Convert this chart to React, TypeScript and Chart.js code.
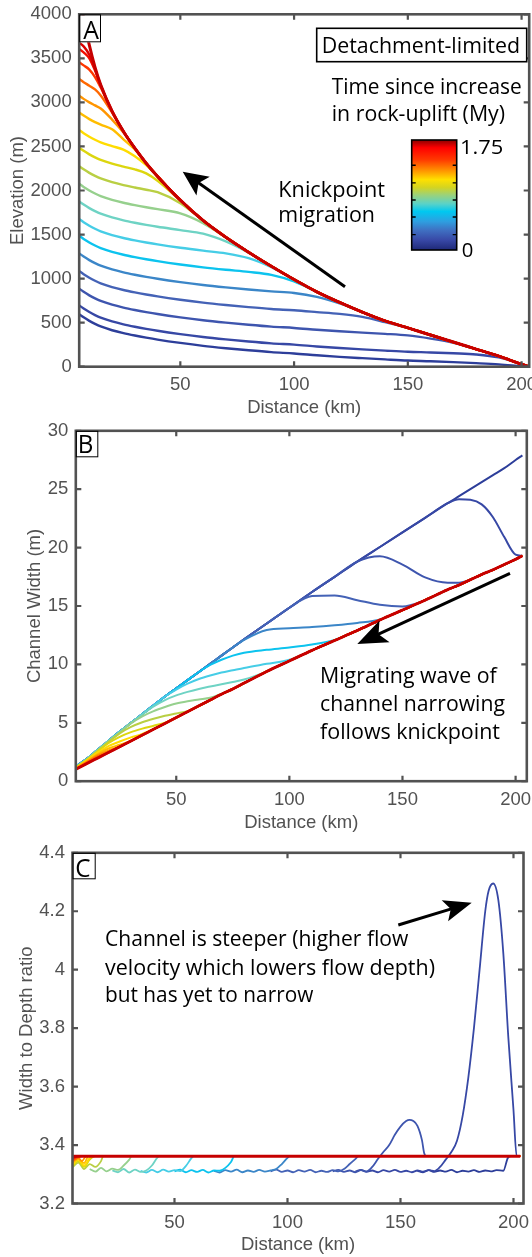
import React, { useEffect, useRef } from 'react';
import { Chart, registerables } from 'chart.js';

Chart.register(...registerables);

// ---------------- shared ----------------
const X_TICKS = [50, 100, 150, 200];
// colours from t = 0 (blue) to t = 1.75 My (dark red)
const TIME_COLORS = ['#2d3e9a', '#3748a5', '#3e55ae', '#4462b6', '#3b86c8', '#0cc3ee', '#46cde6', '#6ed3c4', '#96d08d', '#b9cf43', '#dcd60f', '#ffdc00', '#ffbd00', '#ff9500', '#ff6800', '#ff3600', '#f20e00', '#db0000', '#c60000'];

// ---------------- Panel A: elevation (m) ----------------
const DIST_A = [5, 7.5, 10, 12.5, 15, 20, 25, 30, 35, 40, 50, 60, 70, 80, 90, 100, 110, 120, 130, 140, 150, 160, 170, 180, 190, 200, 203.4];
const ELEV_0 = [606, 560, 520, 486, 457, 414, 381, 354, 330, 308, 270, 237, 210, 186, 165, 150, 130, 112, 97, 83, 70, 62, 52, 40, 26, 6, 0];
const ELEV_1 = [706, 660, 620, 586, 557, 514, 481, 454, 430, 408, 370, 337, 310, 286, 265, 250, 230, 212, 197, 183, 170, 162, 152, 139, 105, 28, 0];
const ELEV_2 = [896, 850, 810, 776, 747, 704, 671, 644, 620, 598, 560, 527, 500, 476, 455, 440, 420, 402, 387, 373, 355, 319, 272, 200, 120, 28, 0];
const ELEV_3 = [1096, 1050, 1010, 976, 947, 904, 871, 844, 820, 798, 760, 727, 700, 676, 655, 640, 620, 599, 565, 506, 440, 360, 280, 200, 120, 28, 0];
const ELEV_4 = [1296, 1250, 1210, 1176, 1147, 1104, 1071, 1044, 1020, 998, 960, 927, 900, 876, 855, 837, 793, 718, 620, 520, 440, 360, 280, 200, 120, 28, 0];
const ELEV_5 = [1496, 1450, 1410, 1376, 1347, 1304, 1271, 1244, 1220, 1198, 1160, 1127, 1100, 1076, 1043, 968, 850, 730, 620, 520, 440, 360, 280, 200, 120, 28, 0];
const ELEV_6 = [1686, 1640, 1600, 1566, 1537, 1494, 1461, 1434, 1410, 1388, 1350, 1317, 1287, 1232, 1130, 990, 850, 730, 620, 520, 440, 360, 280, 200, 120, 28, 0];
const ELEV_7 = [1886, 1840, 1800, 1766, 1737, 1694, 1661, 1634, 1610, 1588, 1550, 1510, 1422, 1295, 1140, 990, 850, 730, 620, 520, 440, 360, 280, 200, 120, 28, 0];
const ELEV_8 = [2086, 2040, 2000, 1966, 1937, 1894, 1861, 1834, 1810, 1788, 1740, 1629, 1467, 1300, 1140, 990, 850, 730, 620, 520, 440, 360, 280, 200, 120, 28, 0];
const ELEV_9 = [2286, 2240, 2200, 2166, 2137, 2094, 2061, 2034, 2009, 1981, 1856, 1658, 1470, 1300, 1140, 990, 850, 730, 620, 520, 440, 360, 280, 200, 120, 28, 0];
const ELEV_10 = [2496, 2450, 2410, 2376, 2347, 2304, 2271, 2240, 2194, 2110, 1887, 1660, 1470, 1300, 1140, 990, 850, 730, 620, 520, 440, 360, 280, 200, 120, 28, 0];
const ELEV_11 = [2696, 2650, 2610, 2576, 2547, 2504, 2463, 2388, 2287, 2158, 1890, 1660, 1470, 1300, 1140, 990, 850, 730, 620, 520, 440, 360, 280, 200, 120, 28, 0];
const ELEV_12 = [2896, 2850, 2810, 2776, 2747, 2694, 2581, 2465, 2307, 2160, 1890, 1660, 1470, 1300, 1140, 990, 850, 730, 620, 520, 440, 360, 280, 200, 120, 28, 0];
const ELEV_13 = [3086, 3040, 3000, 2966, 2931, 2805, 2657, 2478, 2310, 2160, 1890, 1660, 1470, 1300, 1140, 990, 850, 730, 620, 520, 440, 360, 280, 200, 120, 28, 0];
const ELEV_14 = [3276, 3230, 3190, 3147, 3079, 2884, 2668, 2480, 2310, 2160, 1890, 1660, 1470, 1300, 1140, 990, 850, 730, 620, 520, 440, 360, 280, 200, 120, 28, 0];
const ELEV_15 = [3466, 3420, 3373, 3288, 3169, 2899, 2670, 2480, 2310, 2160, 1890, 1660, 1470, 1300, 1140, 990, 850, 730, 620, 520, 440, 360, 280, 200, 120, 28, 0];
const ELEV_16 = [3616, 3568, 3500, 3362, 3193, 2900, 2670, 2480, 2310, 2160, 1890, 1660, 1470, 1300, 1140, 990, 850, 730, 620, 520, 440, 360, 280, 200, 120, 28, 0];
const ELEV_17 = [3686, 3636, 3540, 3381, 3196, 2900, 2670, 2480, 2310, 2160, 1890, 1660, 1470, 1300, 1140, 990, 850, 730, 620, 520, 440, 360, 280, 200, 120, 28, 0];
const ELEV_FINAL = [4300, 3950, 3650, 3400, 3200, 2900, 2670, 2480, 2310, 2160, 1890, 1660, 1470, 1300, 1140, 990, 850, 730, 620, 520, 440, 360, 280, 200, 120, 28, 0];
const ELEV_TICKS = [0, 500, 1000, 1500, 2000, 2500, 3000, 3500, 4000];

// ---------------- Panel B: channel width (m) ----------------
const DIST_B = [5, 10, 15, 20, 25, 30, 35, 40, 45, 50, 55, 60, 65, 70, 75, 80, 90, 100, 110, 120, 130, 140, 150, 160, 170, 175, 180, 185, 190, 195, 200, 203];
const WIDTH_0 = [1.2, 1.85, 2.65, 3.45, 4.25, 5.0, 5.75, 6.5, 7.25, 7.95, 8.65, 9.35, 10.05, 10.75, 11.45, 12.15, 13.5, 14.85, 16.2, 17.5, 18.8, 20.05, 21.3, 22.55, 23.8, 24.4, 25.0, 25.6, 26.2, 26.8, 27.5, 27.9];
const WIDTH_1 = [1.2, 1.85, 2.65, 3.45, 4.25, 5.0, 5.75, 6.5, 7.25, 7.95, 8.65, 9.35, 10.05, 10.75, 11.45, 12.15, 13.5, 14.85, 16.2, 17.5, 18.8, 20.05, 21.3, 22.55, 23.8, 24.15, 24.1, 23.7, 22.6, 20.9, 19.4, 19.3];
const WIDTH_2 = [1.2, 1.85, 2.65, 3.45, 4.25, 5.0, 5.75, 6.5, 7.25, 7.95, 8.65, 9.35, 10.05, 10.75, 11.45, 12.15, 13.5, 14.85, 16.2, 17.5, 18.8, 19.25, 18.55, 17.45, 17.0, 17.0, 17.25, 17.7, 18.1, 18.55, 19.0, 19.3];
const WIDTH_3 = [1.2, 1.85, 2.65, 3.45, 4.25, 5.0, 5.75, 6.5, 7.25, 7.95, 8.65, 9.35, 10.05, 10.75, 11.45, 12.15, 13.5, 14.85, 15.85, 15.9, 15.5, 15.1, 14.95, 15.5, 16.4, 16.8, 17.25, 17.7, 18.1, 18.55, 19.0, 19.3];
const WIDTH_4 = [1.2, 1.85, 2.65, 3.45, 4.25, 5.0, 5.75, 6.5, 7.25, 7.95, 8.65, 9.35, 10.05, 10.75, 11.45, 12.1, 12.95, 13.1, 13.2, 13.35, 13.55, 13.85, 14.65, 15.5, 16.4, 16.8, 17.25, 17.7, 18.1, 18.55, 19.0, 19.3];
const WIDTH_5 = [1.18, 1.85, 2.65, 3.45, 4.25, 5.0, 5.75, 6.5, 7.25, 7.95, 8.65, 9.35, 9.95, 10.4, 10.75, 11.0, 11.25, 11.45, 11.7, 12.1, 12.9, 13.8, 14.65, 15.5, 16.4, 16.8, 17.25, 17.7, 18.1, 18.55, 19.0, 19.3];
const WIDTH_6 = [1.16, 1.84, 2.65, 3.45, 4.25, 5.0, 5.75, 6.5, 7.25, 7.85, 8.35, 8.75, 9.05, 9.3, 9.5, 9.7, 10.05, 10.4, 11.2, 12.05, 12.9, 13.8, 14.65, 15.5, 16.4, 16.8, 17.25, 17.7, 18.1, 18.55, 19.0, 19.3];
const WIDTH_7 = [1.14, 1.82, 2.63, 3.43, 4.22, 4.98, 5.72, 6.4, 6.95, 7.35, 7.65, 7.9, 8.1, 8.3, 8.5, 8.7, 9.4, 10.3, 11.2, 12.05, 12.9, 13.8, 14.65, 15.5, 16.4, 16.8, 17.25, 17.7, 18.1, 18.55, 19.0, 19.3];
const WIDTH_8 = [1.12, 1.8, 2.6, 3.4, 4.18, 4.95, 5.55, 6.0, 6.35, 6.65, 6.85, 7.0, 7.15, 7.5, 7.9, 8.4, 9.4, 10.3, 11.2, 12.05, 12.9, 13.8, 14.65, 15.5, 16.4, 16.8, 17.25, 17.7, 18.1, 18.55, 19.0, 19.3];
const WIDTH_9 = [1.1, 1.78, 2.55, 3.35, 4.1, 4.65, 5.05, 5.35, 5.6, 5.8, 6.0, 6.45, 6.95, 7.45, 7.9, 8.4, 9.4, 10.3, 11.2, 12.05, 12.9, 13.8, 14.65, 15.5, 16.4, 16.8, 17.25, 17.7, 18.1, 18.55, 19.0, 19.3];
const WIDTH_10 = [1.08, 1.75, 2.5, 3.25, 3.8, 4.2, 4.5, 4.75, 5.0, 5.45, 5.95, 6.45, 6.95, 7.45, 7.9, 8.4, 9.4, 10.3, 11.2, 12.05, 12.9, 13.8, 14.65, 15.5, 16.4, 16.8, 17.25, 17.7, 18.1, 18.55, 19.0, 19.3];
const WIDTH_11 = [1.06, 1.7, 2.4, 3.0, 3.4, 3.75, 4.05, 4.47, 4.95, 5.45, 5.95, 6.45, 6.95, 7.45, 7.9, 8.4, 9.4, 10.3, 11.2, 12.05, 12.9, 13.8, 14.65, 15.5, 16.4, 16.8, 17.25, 17.7, 18.1, 18.55, 19.0, 19.3];
const WIDTH_12 = [1.04, 1.65, 2.3, 2.8, 3.12, 3.47, 3.95, 4.45, 4.95, 5.45, 5.95, 6.45, 6.95, 7.45, 7.9, 8.4, 9.4, 10.3, 11.2, 12.05, 12.9, 13.8, 14.65, 15.5, 16.4, 16.8, 17.25, 17.7, 18.1, 18.55, 19.0, 19.3];
const WIDTH_13 = [1.02, 1.6, 2.2, 2.62, 2.97, 3.45, 3.95, 4.45, 4.95, 5.45, 5.95, 6.45, 6.95, 7.45, 7.9, 8.4, 9.4, 10.3, 11.2, 12.05, 12.9, 13.8, 14.65, 15.5, 16.4, 16.8, 17.25, 17.7, 18.1, 18.55, 19.0, 19.3];
const WIDTH_14 = [1.0, 1.55, 2.1, 2.5, 2.95, 3.45, 3.95, 4.45, 4.95, 5.45, 5.95, 6.45, 6.95, 7.45, 7.9, 8.4, 9.4, 10.3, 11.2, 12.05, 12.9, 13.8, 14.65, 15.5, 16.4, 16.8, 17.25, 17.7, 18.1, 18.55, 19.0, 19.3];
const WIDTH_15 = [0.98, 1.52, 2.02, 2.45, 2.95, 3.45, 3.95, 4.45, 4.95, 5.45, 5.95, 6.45, 6.95, 7.45, 7.9, 8.4, 9.4, 10.3, 11.2, 12.05, 12.9, 13.8, 14.65, 15.5, 16.4, 16.8, 17.25, 17.7, 18.1, 18.55, 19.0, 19.3];
const WIDTH_16 = [0.97, 1.49, 1.98, 2.45, 2.95, 3.45, 3.95, 4.45, 4.95, 5.45, 5.95, 6.45, 6.95, 7.45, 7.9, 8.4, 9.4, 10.3, 11.2, 12.05, 12.9, 13.8, 14.65, 15.5, 16.4, 16.8, 17.25, 17.7, 18.1, 18.55, 19.0, 19.3];
const WIDTH_17 = [0.96, 1.47, 1.96, 2.45, 2.95, 3.45, 3.95, 4.45, 4.95, 5.45, 5.95, 6.45, 6.95, 7.45, 7.9, 8.4, 9.4, 10.3, 11.2, 12.05, 12.9, 13.8, 14.65, 15.5, 16.4, 16.8, 17.25, 17.7, 18.1, 18.55, 19.0, 19.3];
const WIDTH_FINAL = [0.95, 1.45, 1.95, 2.45, 2.95, 3.45, 3.95, 4.45, 4.95, 5.45, 5.95, 6.45, 6.95, 7.45, 7.9, 8.4, 9.4, 10.3, 11.2, 12.05, 12.9, 13.8, 14.65, 15.5, 16.4, 16.8, 17.25, 17.7, 18.1, 18.55, 19.0, 19.3];
const WIDTH_TICKS = [0, 5, 10, 15, 20, 25, 30];

// ---------------- Panel C: width to depth ratio ([distance km, ratio]) ----------------
const WD_0 = [[157.5, 3.312], [160, 3.307], [162.5, 3.314], [165, 3.308], [167.5, 3.313], [170, 3.309], [172.5, 3.315], [175, 3.307], [177.5, 3.312], [180, 3.309], [182.5, 3.314], [185, 3.308], [187.5, 3.313], [190, 3.31], [192.5, 3.314], [195.5, 3.312], [197.5, 3.356], [199, 3.362], [203, 3.362]];
const WD_1 = [[130, 3.309], [132.5, 3.315], [135, 3.308], [137.5, 3.313], [140, 3.307], [142.5, 3.314], [145, 3.309], [147.5, 3.315], [150, 3.308], [152.5, 3.312], [155, 3.307], [157.5, 3.313], [160, 3.309], [162.5, 3.314], [165, 3.311], [167.5, 3.325], [170, 3.35], [172.5, 3.376], [175, 3.415], [177.5, 3.5], [180, 3.63], [182.5, 3.8], [185, 4.0], [187.5, 4.2], [189, 4.27], [191, 4.295], [193.3, 4.238], [195.5, 4.056], [197.7, 3.77], [200, 3.52], [201.4, 3.362], [203, 3.362]];
const WD_2 = [[120, 3.31], [122.5, 3.315], [125, 3.308], [127.5, 3.313], [130, 3.307], [132.5, 3.314], [135, 3.31], [137.5, 3.325], [140, 3.352], [142.5, 3.377], [145, 3.4], [147.5, 3.435], [150, 3.463], [152.5, 3.482], [154, 3.486], [155.5, 3.483], [157.5, 3.466], [159.5, 3.417], [160.5, 3.372], [161.5, 3.362], [203, 3.362]];
const WD_3 = [[92.5, 3.31], [95, 3.316], [97.5, 3.308], [100, 3.313], [102.5, 3.307], [105, 3.314], [107.5, 3.309], [110, 3.315], [112.5, 3.307], [115, 3.312], [117.5, 3.308], [120, 3.314], [122.5, 3.31], [125, 3.318], [127.5, 3.335], [130, 3.352], [131.5, 3.362], [203, 3.362]];
const WD_4 = [[67.5, 3.312], [70, 3.306], [72.5, 3.314], [75, 3.309], [77.5, 3.316], [80, 3.307], [82.5, 3.313], [85, 3.308], [87.5, 3.315], [90, 3.309], [92.5, 3.313], [95, 3.318], [97.5, 3.335], [100, 3.356], [101, 3.362], [203, 3.362]];
const WD_5 = [[50, 3.31], [52.5, 3.316], [55, 3.307], [57.5, 3.314], [60, 3.308], [62.5, 3.315], [65, 3.306], [67.5, 3.313], [70, 3.312], [72.5, 3.322], [75, 3.342], [76.5, 3.362], [203, 3.362]];
const WD_6 = [[35, 3.312], [37.5, 3.306], [40, 3.315], [42.5, 3.307], [45, 3.316], [47.5, 3.309], [50, 3.314], [52.5, 3.311], [55, 3.328], [57.5, 3.355], [58.5, 3.362], [203, 3.362]];
const WD_7 = [[22.5, 3.313], [25, 3.307], [27.5, 3.318], [30, 3.306], [32.5, 3.316], [35, 3.308], [37.5, 3.313], [40, 3.33], [42.5, 3.358], [43.5, 3.362], [203, 3.362]];
const WD_8 = [[12.5, 3.318], [15, 3.309], [17.5, 3.322], [20, 3.31], [22.5, 3.319], [25, 3.315], [27.5, 3.33], [30, 3.35], [31, 3.362], [203, 3.362]];
const WD_9 = [[5, 3.325], [7.5, 3.34], [10, 3.318], [12.5, 3.335], [15, 3.325], [17.5, 3.345], [18.5, 3.362], [203, 3.362]];
const WD_10 = [[5, 3.33], [7.5, 3.345], [10, 3.325], [12.5, 3.35], [15, 3.362], [203, 3.362]];
const WD_11 = [[5, 3.335], [7.5, 3.35], [10, 3.33], [12.5, 3.356], [14, 3.362], [203, 3.362]];
const WD_12 = [[5, 3.34], [7.5, 3.352], [10, 3.338], [12, 3.362], [203, 3.362]];
const WD_13 = [[5, 3.343], [7.5, 3.356], [9, 3.345], [11, 3.362], [203, 3.362]];
const WD_14 = [[5, 3.347], [7.5, 3.358], [9.5, 3.362], [203, 3.362]];
const WD_15 = [[5, 3.35], [7, 3.36], [8.5, 3.362], [203, 3.362]];
const WD_16 = [[5, 3.355], [7.5, 3.362], [203, 3.362]];
const WD_17 = [[5, 3.358], [7, 3.362], [203, 3.362]];
const WD_FINAL = [[5, 3.362], [203, 3.362]];
const WD_TICKS = [3.2, 3.4, 3.6, 3.8, 4, 4.2, 4.4];

// colour bar stops (top = 1.75 My, bottom = 0)
const CBAR_STOPS: [number, string][] = [[0, '#8c0000'], [0.07, '#ff0000'], [0.18, '#ff3a00'], [0.27, '#ff8c00'], [0.36, '#ffe000'], [0.43, '#d4d420'], [0.5, '#9bd27a'], [0.58, '#5ad2c8'], [0.65, '#00c8f0'], [0.74, '#2e9fe0'], [0.82, '#3f70c2'], [0.91, '#3848a6'], [1, '#1e2877']];
const CBAR_TICK_FRACTIONS = [0.14, 0.3, 0.455, 0.61, 0.77];

// ---------------- drawing helpers ----------------
const AXIS_FONT = "'Liberation Sans', Arial, Helvetica, sans-serif";
const NOTE_FONT = "'Open Sans', 'Noto Sans', sans-serif";
const AXIS_COLOR = '#525252';
const W = 532;

function fitText(ctx: any, text: string, x: number, y: number, size: number, width: number) {
  ctx.save();
  ctx.font = `${size}px ${NOTE_FONT}`;
  ctx.fillStyle = '#000';
  ctx.textAlign = 'left';
  ctx.textBaseline = 'alphabetic';
  const w = ctx.measureText(text).width || 1;
  ctx.translate(x, y);
  ctx.scale(width / w, 1);
  ctx.fillText(text, 0, 0);
  ctx.restore();
}

function arrow(ctx: any, x1: number, y1: number, x2: number, y2: number, L: number, Wd: number, lw: number) {
  const dx = x2 - x1, dy = y2 - y1, len = Math.hypot(dx, dy);
  const ux = dx / len, uy = dy / len, nx = -uy, ny = ux;
  ctx.save();
  ctx.strokeStyle = '#000';
  ctx.fillStyle = '#000';
  ctx.lineWidth = lw;
  ctx.beginPath();
  ctx.moveTo(x1, y1);
  ctx.lineTo(x2 - ux * L * 0.7, y2 - uy * L * 0.7);
  ctx.stroke();
  ctx.beginPath();
  ctx.moveTo(x2, y2);
  ctx.lineTo(x2 - ux * L + nx * Wd, y2 - uy * L + ny * Wd);
  ctx.lineTo(x2 - ux * L * 0.78, y2 - uy * L * 0.78);
  ctx.lineTo(x2 - ux * L - nx * Wd, y2 - uy * L - ny * Wd);
  ctx.closePath();
  ctx.fill();
  ctx.restore();
}

function labelBox(ctx: any, x0: number, y0: number, x1: number, y1: number, letter: string, lx: number, ly: number, lw: number) {
  ctx.save();
  ctx.fillStyle = '#fff';
  ctx.fillRect(x0 + 1.3, y0 + 1.3, x1 - x0 - 1.3, y1 - y0 - 1.3);
  ctx.strokeStyle = '#000';
  ctx.lineWidth = 1;
  ctx.strokeRect(x0 + 0.5, y0 + 0.5, x1 - x0 - 1, y1 - y0 - 1);
  ctx.restore();
  fitText(ctx, letter, lx, ly, 26, lw);
}

function drawExtrasA(ctx: any) {
  arrow(ctx, 345, 286.7, 182.7, 171.7, 25, 11.5, 3);
  labelBox(ctx, 79.2, 14.3, 101, 42.3, 'A', 83.3, 39.3, 15.7);
  ctx.save();
  ctx.fillStyle = '#fff';
  ctx.fillRect(316.7, 28.3, 210, 33.4);
  ctx.strokeStyle = '#000';
  ctx.lineWidth = 1.6;
  ctx.strokeRect(316.7, 28.3, 210, 33.4);
  ctx.restore();
  fitText(ctx, 'Detachment-limited', 321.7, 53.3, 22.5, 198.3);
  fitText(ctx, 'Time since increase', 331.7, 93.7, 22.5, 190);
  fitText(ctx, 'in rock-uplift (My)', 331.7, 121.3, 22.5, 173.3);
  fitText(ctx, 'Knickpoint', 278.3, 197.3, 22.5, 106.7);
  fitText(ctx, 'migration', 278.3, 222.3, 22.5, 96.7);
  // colour bar
  const x0 = 411.7, y0 = 140, w = 45, h = 110;
  ctx.save();
  const g = ctx.createLinearGradient(0, y0, 0, y0 + h);
  CBAR_STOPS.forEach(([f, c]) => g.addColorStop(f, c));
  ctx.fillStyle = g;
  ctx.fillRect(x0, y0, w, h);
  ctx.strokeStyle = '#000';
  ctx.lineWidth = 1.6;
  ctx.strokeRect(x0, y0, w, h);
  ctx.lineWidth = 1.4;
  ctx.beginPath();
  CBAR_TICK_FRACTIONS.forEach((f) => {
    const yy = y0 + h - f * h;
    ctx.moveTo(x0, yy); ctx.lineTo(x0 + 4, yy);
    ctx.moveTo(x0 + w, yy); ctx.lineTo(x0 + w - 4, yy);
  });
  ctx.stroke();
  ctx.restore();
  fitText(ctx, '1.75', 460, 154, 20, 43.3);
  fitText(ctx, '0', 461.7, 256.5, 20, 11.6);
}

function drawExtrasB(ctx: any) {
  labelBox(ctx, 75.8, 430.8, 98.3, 457.3, 'B', 77.7, 453.3, 15.6);
  arrow(ctx, 510, 573.3, 357.3, 644, 30, 12, 3);
  fitText(ctx, 'Migrating wave of', 320, 682.7, 22.5, 176.7);
  fitText(ctx, 'channel narrowing', 320, 711.3, 22.5, 185);
  fitText(ctx, 'follows knickpoint', 320, 738.5, 22.5, 180);
}

function drawExtrasC(ctx: any) {
  labelBox(ctx, 72.5, 852.8, 95.7, 879.3, 'C', 75.3, 876.7, 15.3);
  arrow(ctx, 398.3, 925, 471.7, 902.7, 28, 11, 3);
  fitText(ctx, 'Channel is steeper (higher flow', 105, 946, 22.5, 303.3);
  fitText(ctx, 'velocity which lowers flow depth)', 105, 974.5, 22.5, 330);
  fitText(ctx, 'but has yet to narrow', 105, 1002, 22.5, 208.3);
}

const framePlugin = {
  id: 'frame',
  afterDatasetsDraw(chart: any) {
    const { ctx, chartArea: a, scales } = chart;
    const x = scales.x, y = scales.y;
    const T = 5.5;
    ctx.save();
    ctx.strokeStyle = AXIS_COLOR;
    ctx.lineWidth = 2.2;
    ctx.beginPath();
    x.ticks.forEach((t: any) => {
      const px = x.getPixelForValue(t.value);
      ctx.moveTo(px, a.bottom); ctx.lineTo(px, a.bottom - T);
      ctx.moveTo(px, a.top); ctx.lineTo(px, a.top + T);
    });
    y.ticks.forEach((t: any) => {
      const py = y.getPixelForValue(t.value);
      ctx.moveTo(a.left, py); ctx.lineTo(a.left + T, py);
      ctx.moveTo(a.right, py); ctx.lineTo(a.right - T, py);
    });
    ctx.stroke();
    ctx.lineWidth = 2.6;
    ctx.strokeRect(a.left, a.top, a.right - a.left, a.bottom - a.top);
    ctx.restore();
  },
};

function lineSets(series: any[][], toPoints: (s: any[]) => any[], thin: number, thick: number) {
  // series ordered from t = 0 to final; first dataset is drawn on top
  return series
    .map((s, k) => ({
      data: toPoints(s),
      borderColor: TIME_COLORS[k],
      borderWidth: k === series.length - 1 ? thick : thin,
      pointRadius: 0,
      fill: false,
      cubicInterpolationMode: 'monotone',
    }))
    .reverse();
}

function makeChart(canvas: HTMLCanvasElement, p: any) {
  const axisFont = { family: AXIS_FONT, size: 18.5 };
  return new Chart(canvas, {
    type: 'line',
    data: { datasets: p.datasets },
    options: {
      responsive: false,
      animation: false,
      devicePixelRatio: 1,
      layout: { padding: { left: 0, top: p.top - p.offset, right: W - p.right, bottom: 0 } },
      plugins: { legend: { display: false }, tooltip: { enabled: false } },
      elements: { point: { radius: 0 } },
      scales: {
        x: {
          type: 'linear',
          position: 'bottom',
          min: p.xMin,
          max: p.xMax,
          bounds: 'data',
          grid: { display: false, drawTicks: false },
          border: { display: false },
          afterBuildTicks: (s: any) => { s.ticks = X_TICKS.map((v) => ({ value: v })); },
          afterFit: (s: any) => { s.height = p.offset + p.height - p.bottom; s.paddingLeft = 0; s.paddingRight = 0; },
          ticks: { autoSkip: false, maxRotation: 0, minRotation: 0, padding: p.xTickPad, font: axisFont, color: AXIS_COLOR, callback: (v: any) => String(v) },
          title: { display: true, text: 'Distance (km)', font: axisFont, color: AXIS_COLOR, padding: { top: 0, bottom: p.xTitlePad } },
        },
        y: {
          type: 'linear',
          position: 'left',
          min: p.yMin,
          max: p.yMax,
          bounds: 'data',
          grid: { display: false, drawTicks: false },
          border: { display: false },
          afterBuildTicks: (s: any) => { s.ticks = p.yTicks.map((v: number) => ({ value: v })); },
          afterFit: (s: any) => { s.width = p.left; s.paddingTop = 0; s.paddingBottom = 0; },
          ticks: { autoSkip: false, padding: 7.5, font: axisFont, color: AXIS_COLOR, callback: (v: any) => String(v) },
          title: { display: true, text: p.yTitle, font: axisFont, color: AXIS_COLOR, padding: { top: p.yTitlePad, bottom: 0 } },
        },
      },
    } as any,
    plugins: [framePlugin, { id: 'extras', afterDraw: (c: any) => { c.ctx.save(); c.ctx.translate(0, -p.offset); p.extras(c.ctx); c.ctx.restore(); } }],
  } as any);
}

const PANEL_A = {
  offset: 0, height: 420, left: 79.2, right: 529.2, top: 14.3, bottom: 366.7,
  xMin: 5.55, xMax: 203.35, yMin: 0, yMax: 4000, yTicks: ELEV_TICKS,
  yTitle: 'Elevation (m)', yTitlePad: 6.9, xTickPad: 7.2, xTitlePad: 0.9,
  datasets: lineSets(
    [ELEV_0, ELEV_1, ELEV_2, ELEV_3, ELEV_4, ELEV_5, ELEV_6, ELEV_7, ELEV_8, ELEV_9, ELEV_10, ELEV_11, ELEV_12, ELEV_13, ELEV_14, ELEV_15, ELEV_16, ELEV_17, ELEV_FINAL],
    (s) => DIST_A.map((x, i) => ({ x, y: s[i] })), 2.4, 3),
  extras: drawExtrasA,
};

const PANEL_B = {
  offset: 420, height: 416, left: 75.8, right: 526.8, top: 430.8, bottom: 781.2,
  xMin: 5.6, xMax: 204.95, yMin: 0, yMax: 30, yTicks: WIDTH_TICKS,
  yTitle: 'Channel Width (m)', yTitlePad: 23.9, xTickPad: 7.7, xTitlePad: 1.9,
  datasets: lineSets(
    [WIDTH_0, WIDTH_1, WIDTH_2, WIDTH_3, WIDTH_4, WIDTH_5, WIDTH_6, WIDTH_7, WIDTH_8, WIDTH_9, WIDTH_10, WIDTH_11, WIDTH_12, WIDTH_13, WIDTH_14, WIDTH_15, WIDTH_16, WIDTH_17, WIDTH_FINAL],
    (s) => DIST_B.map((x, i) => ({ x, y: s[i] })), 2, 2.8),
  extras: drawExtrasB,
};

const PANEL_C = {
  offset: 836, height: 421, left: 72.5, right: 523.5, top: 852.8, bottom: 1203.5,
  xMin: 4.87, xMax: 204.43, yMin: 3.2, yMax: 4.4, yTicks: WD_TICKS,
  yTitle: 'Width to Depth ratio', yTitlePad: 15.9, xTickPad: 8.7, xTitlePad: 0.9,
  datasets: lineSets(
    [WD_0, WD_1, WD_2, WD_3, WD_4, WD_5, WD_6, WD_7, WD_8, WD_9, WD_10, WD_11, WD_12, WD_13, WD_14, WD_15, WD_16, WD_17, WD_FINAL],
    (s) => s.map(([x, y]: number[]) => ({ x, y })), 1.8, 3),
  extras: drawExtrasC,
};

export default function App() {
  const refA = useRef<HTMLCanvasElement>(null);
  const refB = useRef<HTMLCanvasElement>(null);
  const refC = useRef<HTMLCanvasElement>(null);

  useEffect(() => {
    const charts = [
      makeChart(refA.current!, PANEL_A),
      makeChart(refB.current!, PANEL_B),
      makeChart(refC.current!, PANEL_C),
    ];
    const fonts: any = (document as any).fonts;
    if (fonts && fonts.ready) fonts.ready.then(() => charts.forEach((c) => c.update()));
    return () => charts.forEach((c) => c.destroy());
  }, []);

  const cv = (top: number, h: number): React.CSSProperties => ({ position: 'absolute', left: 0, top, width: W, height: h });
  return (
    <div style={{ position: 'absolute', left: 0, top: 0, width: W, height: 1257, background: '#fff', overflow: 'hidden' }}>
      <canvas ref={refA} width={W} height={420} style={cv(0, 420)} />
      <canvas ref={refB} width={W} height={416} style={cv(420, 416)} />
      <canvas ref={refC} width={W} height={421} style={cv(836, 421)} />
    </div>
  );
}
